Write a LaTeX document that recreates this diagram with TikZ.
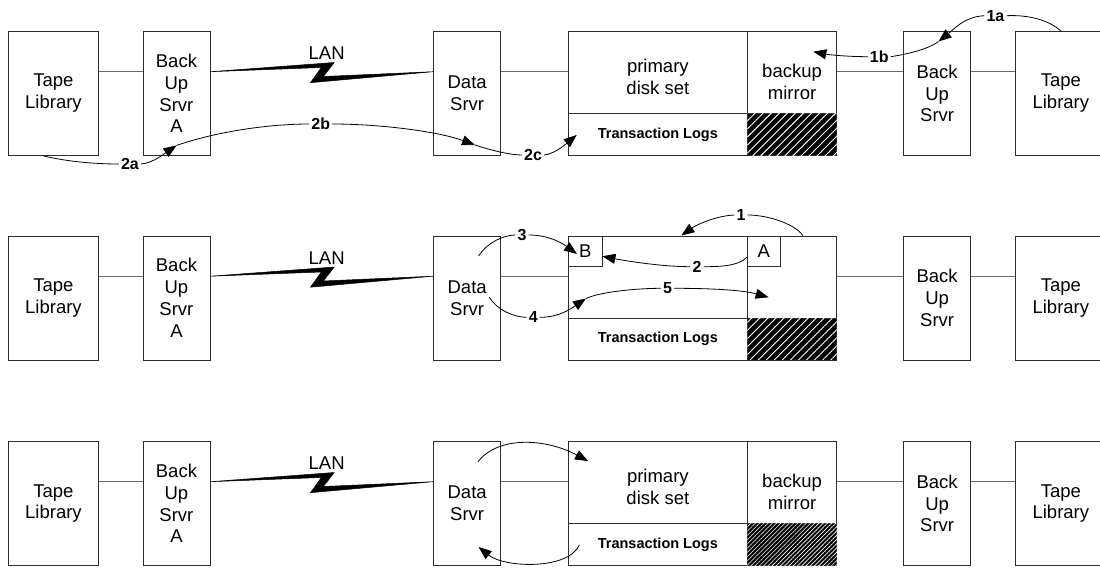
\documentclass[tikz,border=0pt]{standalone}
\usepackage{fontspec}
\setmainfont{Liberation Sans}
\usetikzlibrary{arrows.meta,calc,patterns.meta}
\newcommand\boxfont{\fontsize{18.5}{21.8}\selectfont}
\newcommand\tagfont{\fontsize{16}{18}\selectfont\bfseries}
\newcommand\logfont{\fontsize{14.5}{17}\selectfont\bfseries}
\definecolor{boxc}{RGB}{45,45,45}
\definecolor{linkc}{RGB}{105,105,105}
\begin{document}
\begin{tikzpicture}[x=1pt,y=-1pt,
  box/.style={draw=boxc, line width=0.9pt, inner sep=0pt, anchor=north west,
              align=center, font=\boxfont, minimum height=124pt},
  cell/.style={draw=boxc, line width=0.9pt, inner sep=0pt, anchor=north west},
  link/.style={draw=linkc, line width=1pt},
  bolt/.style={fill=black, draw=black, line width=0.5pt, line join=round},
  flow/.style={draw=black, line width=0.8pt},
  tip/.style={-{Triangle[length=13pt,width=10pt]}},
  lbl/.style={font=\tagfont, fill=white, inner sep=2pt}]
\useasboundingbox (0,0) rectangle (1100,570);
\clip (0,0) rectangle (1100,570);

% three copies of the same installation, one per stage
\foreach \r/\t in {1/31,2/235.5,3/441}{
  \node[box, minimum width=90pt] (tl\r) at (8,\t) {Tape\\Library};
  \node[box, minimum width=67pt] (ba\r) at (142.5,\t) {Back\\Up\\Srvr\\A};
  \node[box, minimum width=67pt] (ds\r) at (433.2,\t) {Data\\Srvr};
  \node[cell, minimum width=178.8pt, minimum height=82.3pt] (pd\r) at (568,\t) {};
  \node[cell, minimum width=89.6pt, minimum height=82.3pt] (bm\r) at (746.8,\t) {};
  \node[cell, minimum width=178.8pt, minimum height=41.7pt] (lg\r) at (568,\t+82.3) {};
  \node[cell, fill=black, minimum width=89.6pt, minimum height=41.7pt] (hx\r) at (746.8,\t+82.3) {};
  \node[box, minimum width=67pt] (bb\r) at (903.2,\t) {Back\\Up\\Srvr};
  \node[box, minimum width=90pt] (tr\r) at (1015.4,\t) {Tape\\Library};
  \node[font=\logfont] (tx\r) at (lg\r.center) {Transaction Logs};

  % cabling
  \coordinate (ln\r) at (0,\t+40.7);
  \draw[link] (tl\r.east |- ln\r) -- (ba\r.west |- ln\r);
  \draw[link] (ds\r.east |- ln\r) -- (pd\r.west |- ln\r);
  \draw[link] (bm\r.east |- ln\r) -- (bb\r.west |- ln\r);
  \draw[link] (bb\r.east |- ln\r) -- (tr\r.west |- ln\r);

  % LAN lightning bolt
  \coordinate (p\r) at (ba\r.east |- ln\r);
  \coordinate (q\r) at (ds\r.west |- ln\r);
  \filldraw[bolt] (p\r) -- ($(p\r)!0.556!(q\r)+(0,-9.2)$) -- ($(p\r)!0.507!(q\r)+(0,4.8)$)
     -- (q\r) -- ($(p\r)!0.449!(q\r)+(0,11)$) -- ($(p\r)!0.498!(q\r)+(0,-4.2)$) -- cycle;
  \node[font=\boxfont] (lan\r) at (326.7,\t+22.5) {LAN};
}

% hatching of the mirror's log area
\fill[pattern={Lines[angle=45,distance=5.7pt,line width=0.9pt]}, pattern color=white]
  ([shift={(0.5pt,-0.5pt)}]hx1.north west) rectangle ([shift={(-0.5pt,0.5pt)}]hx1.south east);
\fill[pattern={Lines[angle=45,distance=5.7pt,line width=0.9pt]}, pattern color=white]
  ([shift={(0.5pt,-0.5pt)}]hx2.north west) rectangle ([shift={(-0.5pt,0.5pt)}]hx2.south east);
\fill[pattern={Lines[angle=45,distance=3pt,line width=0.6pt]}, pattern color=white]
  ([shift={(0.5pt,-0.5pt)}]hx3.north west) rectangle ([shift={(-0.5pt,0.5pt)}]hx3.south east);

% disk set captions
\node[font=\boxfont, align=center, yshift=-4pt] (pt1) at (pd1.center) {primary\\disk set};
\node[font=\boxfont, align=center, yshift=-9pt] (mt1) at (bm1.center) {backup\\mirror};
\node[font=\boxfont, align=center, yshift=-4pt] (pt3) at (pd3.center) {primary\\disk set};
\node[font=\boxfont, align=center, yshift=-9pt] (mt3) at (bm3.center) {backup\\mirror};

% stage 2 data blocks
\node[cell, font=\boxfont, minimum width=33.5pt, minimum height=30.6pt] (bx2) at (568,235.5) {B};
\node[cell, font=\boxfont, minimum width=33.2pt, minimum height=30.6pt] (a2) at (746.8,235.5) {A};

% ---- stage 1 flows ----
\node[lbl] (l2a) at (130,164) {2a};
\draw[flow] ([xshift=-10pt]tl1.south) .. controls +(25,6) and +(-22,0) .. (l2a.west);
\coordinate (c2a) at (176.5,145.5);
\draw[flow,tip] (l2a.east) .. controls +(12,-1) and +(-12,8) .. (c2a);
\node[lbl] (l2b) at (320.7,124) {2b};
\draw[flow] (c2a) .. controls +(40,-14) and +(-40,0) .. (l2b.west);
\coordinate (c2b) at (475,145);
\draw[flow,tip] (l2b.east) .. controls +(50,0) and +(-35,-13) .. (c2b);
\node[lbl] (l2c) at (533,155) {2c};
\draw[flow] (c2b) .. controls +(15,5) and +(-12,0) .. (l2c.west);
\coordinate (c2c) at (576.7,135);
\draw[flow,tip] (l2c.east) .. controls +(10,-1) and +(-12,10) .. (c2c);

\node[lbl] (l1a) at (995.4,15.7) {1a};
\draw[flow] (tr1.north) .. controls +(-12,-11) and +(22,-1) .. (l1a.east);
\coordinate (c1a) at (938.5,41.5);
\draw[flow,tip] (l1a.west) .. controls +(-20,1) and +(15,-12) .. (c1a);
\node[lbl] (l1b) at (879.3,56.7) {1b};
\draw[flow] (c1a) .. controls +(-12,9) and +(12,-2) .. (l1b.east);
\coordinate (c1b) at (813.3,51.7);
\draw[flow,tip] (l1b.west) .. controls +(-20,0) and +(15,3) .. (c1b);

% ---- stage 2 flows ----
\node[lbl] (l3) at (522,235) {3};
\coordinate (s3) at (478.6,256);
\draw[flow] (s3) .. controls +(8,-13) and +(-12,0) .. (l3.west);
\coordinate (c3) at (577,254);
\draw[flow,tip] (l3.east) .. controls +(20,0) and +(-15,-11) .. (c3);

\node[lbl] (l4) at (533.2,317.3) {4};
\coordinate (s4) at (489.3,297.3);
\draw[flow] (s4) .. controls +(8,13) and +(-12,0) .. (l4.west);
\coordinate (c4) at (586,298.5);
\draw[flow,tip] (l4.east) .. controls +(20,0) and +(-15,10) .. (c4);

\node[lbl] (l5) at (667.5,288.3) {5};
\draw[flow] (c4) .. controls +(15,-7) and +(-22,0) .. (l5.west);
\coordinate (c5) at (768.6,297.3);
\draw[flow,tip] (l5.east) .. controls +(40,0) and +(-25,-7) .. (c5);

\node[lbl] (l2) at (697,266.7) {2};
\draw[flow] ([yshift=-6pt]a2.west) .. controls +(-8,9) and +(15,0) .. (l2.east);
\draw[flow,tip] (l2.west) .. controls +(-30,0) and +(20,4) .. ([yshift=-5pt]bx2.east);

\node[lbl] (l1) at (741,215) {1};
\draw[flow] ([xshift=11pt]bm2.north) .. controls +(-10,-13) and +(18,0) .. (l1.east);
\draw[flow,tip] (l1.west) .. controls +(-20,1) and +(14,-10) .. ([xshift=23.6pt]pd2.north);

% ---- stage 3 flows ----
\coordinate (s6) at (478,461.7);
\coordinate (c6) at (588,461);
\draw[flow,tip] (s6) .. controls +(20,-25.7) and +(-43,-23) .. (c6);
\coordinate (s7) at (579.3,545);
\coordinate (c7) at (478.6,547);
\draw[flow,tip] (s7) .. controls +(-11,25) and +(26,21) .. (c7);
\end{tikzpicture}
\end{document}
